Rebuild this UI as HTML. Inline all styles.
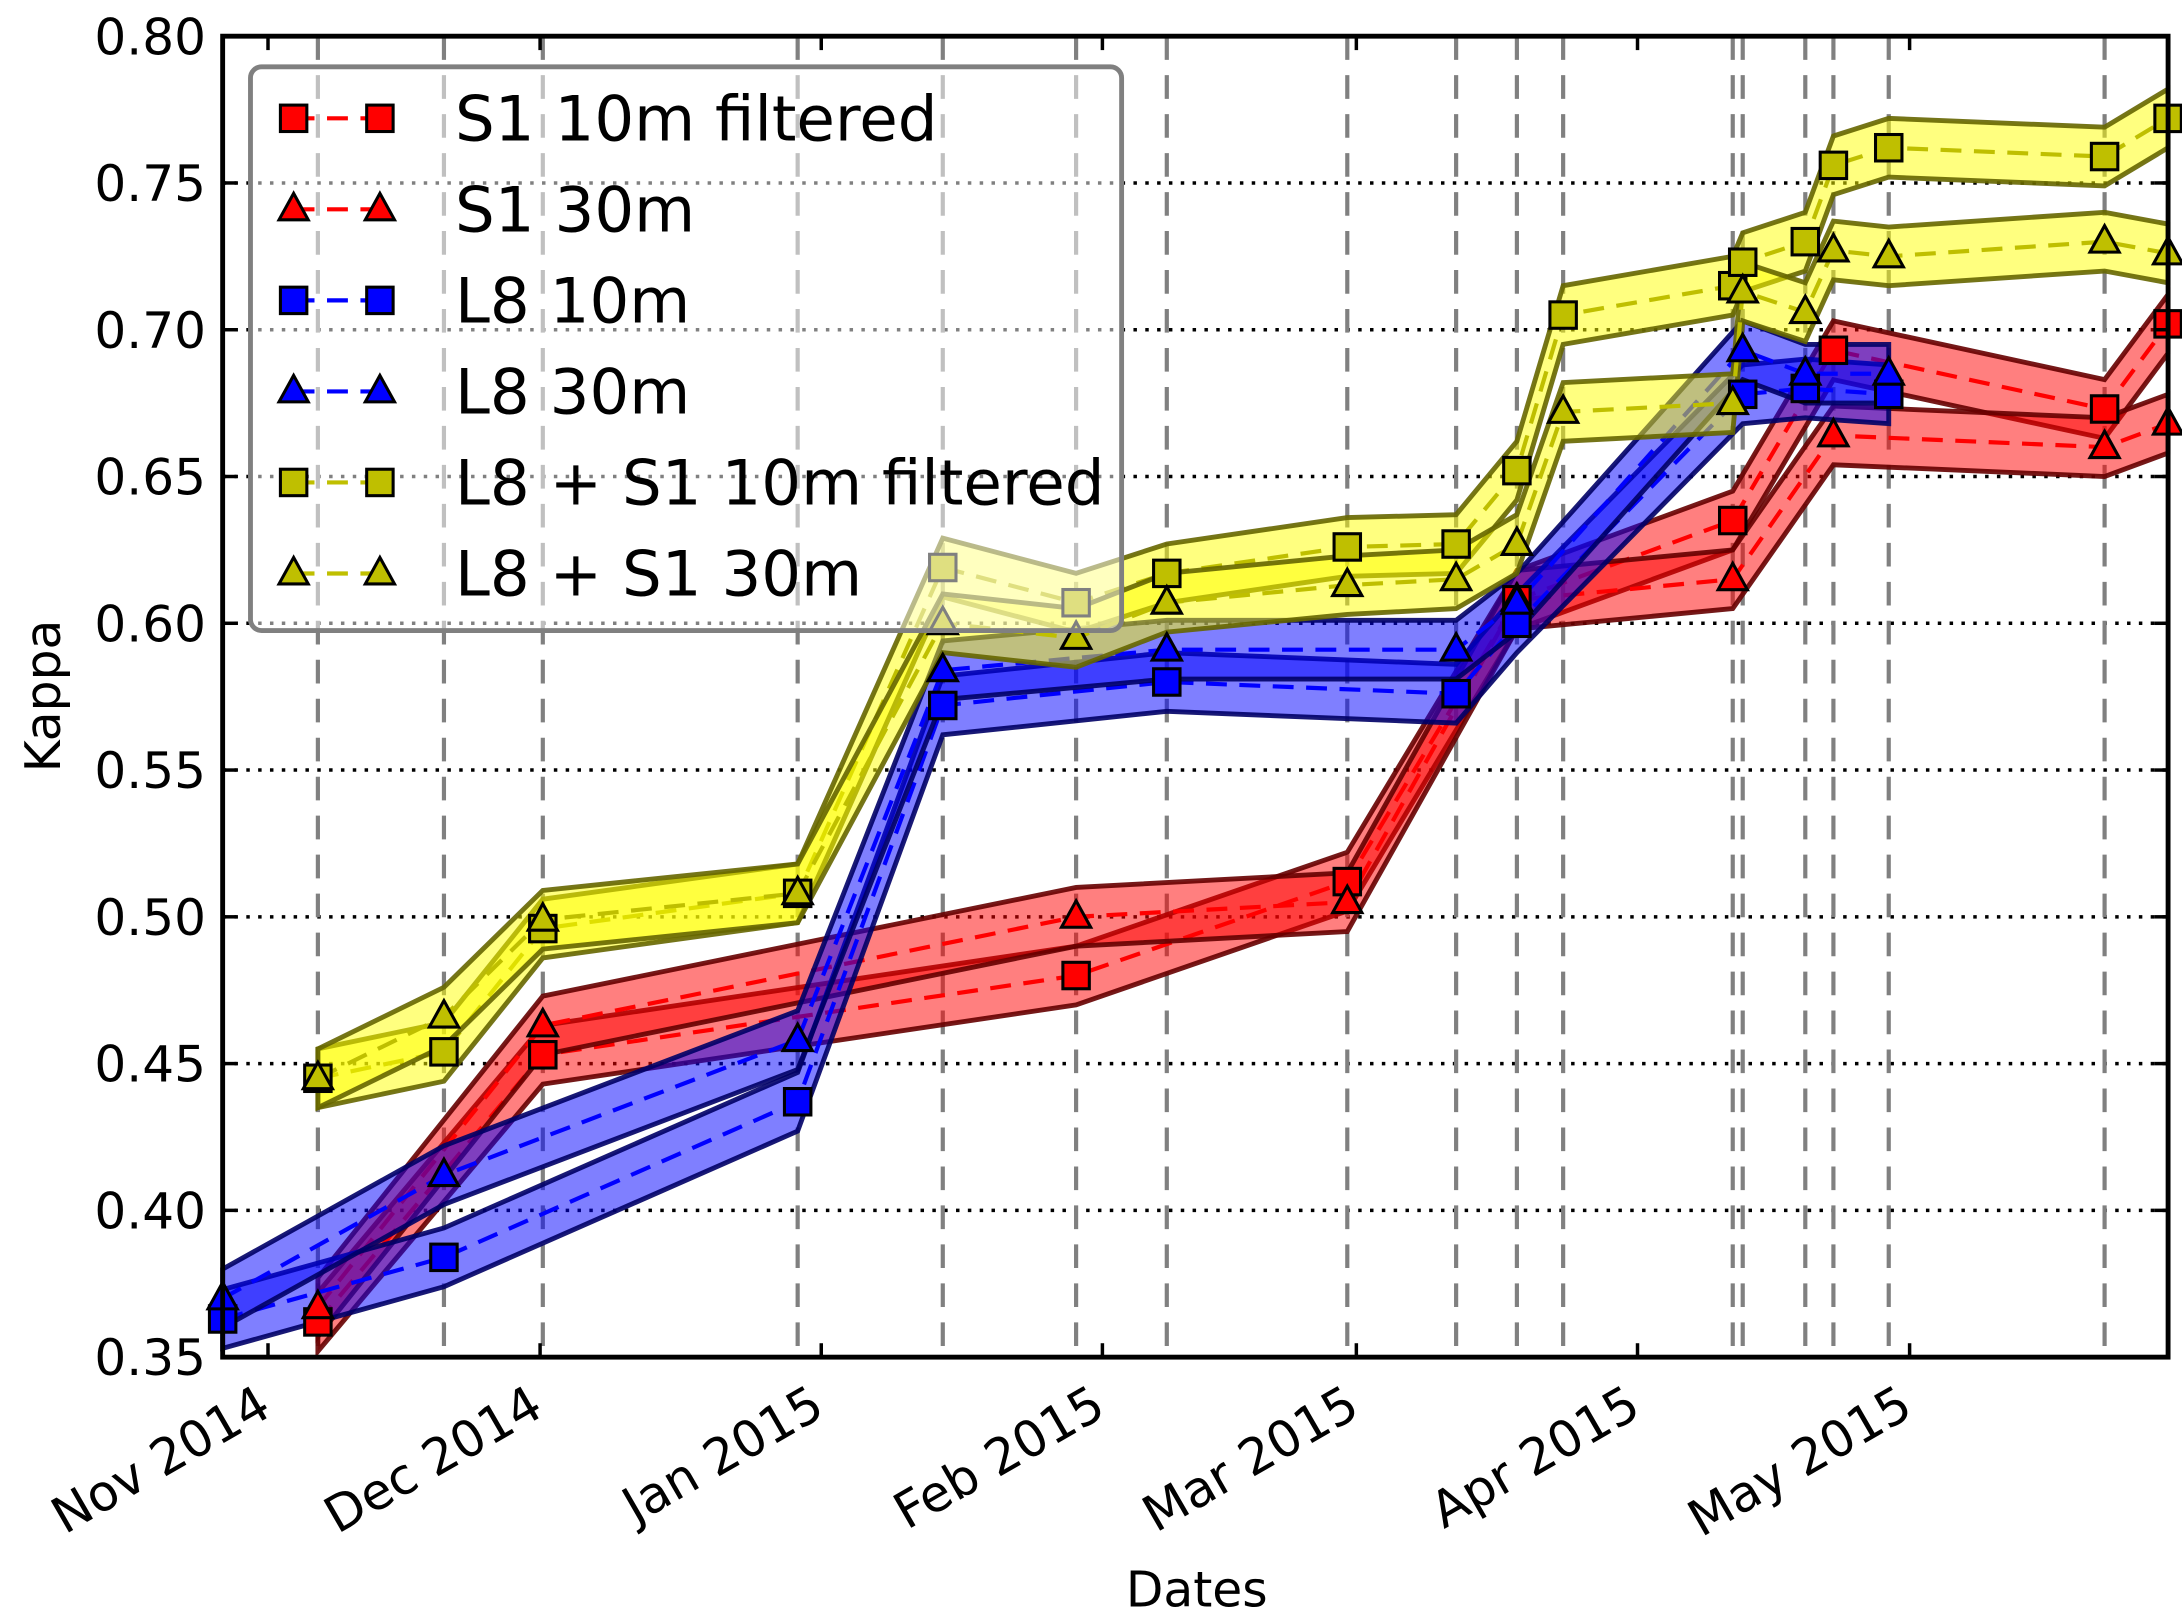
<!DOCTYPE html>
<html><head><meta charset="utf-8"><style>
html,body{margin:0;padding:0;background:#fff;}
svg{display:block;font-family:"DejaVu Sans","Liberation Sans",sans-serif;}
</style></head><body>
<svg id="chart" width="2182" height="1623" viewBox="0 0 1568 1166" preserveAspectRatio="none" xmlns="http://www.w3.org/2000/svg">
<g id="grid"></g>
<g id="series"></g>
<g id="axes"></g>
<g id="legend"></g>
<text x="0" y="0" font-size="35" text-anchor="middle" transform="translate(43,500) rotate(-90)">Kappa</text>
<text x="860" y="1154" font-size="35" text-anchor="middle">Dates</text>
</svg>
<script>
// days since 1 Nov 2014
const acqDays = [-5, 5.5, 19.4, 30.3, 58.4, 74.4, 89.1, 99.1, 119, 131, 137.7, 142.8, 161.5, 162.6, 169.5, 172.6, 178.7, 202.5, 209.5];
const s1Days = [5.5, 30.3, 89.1, 119, 137.7, 161.5, 172.6, 202.5, 209.5];
const l8Days = [-5, 19.4, 58.4, 74.4, 99.1, 131, 137.7, 162.6, 169.5, 178.7];
const comboDays = [5.5, 19.4, 30.3, 58.4, 74.4, 89.1, 99.1, 119, 131, 137.7, 142.8, 161.5, 162.6, 169.5, 172.6, 178.7, 202.5, 209.5];
const s1_10 = [0.362, 0.453, 0.480, 0.512, 0.608, 0.635, 0.693, 0.673, 0.702];
const s1_30 = [0.367, 0.463, 0.500, 0.505, 0.608, 0.615, 0.664, 0.660, 0.668];
const l8_10 = [0.363, 0.384, 0.437, 0.572, 0.580, 0.576, 0.600, 0.678, 0.680, 0.678];
const l8_30 = [0.370, 0.412, 0.458, 0.584, 0.591, 0.591, 0.607, 0.693, 0.685, 0.685];
const combo_10 = [0.445, 0.454, 0.496, 0.508, 0.619, 0.607, 0.617, 0.626, 0.627, 0.652, 0.705, 0.715, 0.723, 0.730, 0.756, 0.762, 0.759, 0.772];
const combo_30 = [0.445, 0.466, 0.499, 0.508, 0.600, 0.595, 0.607, 0.613, 0.615, 0.627, 0.672, 0.675, 0.713, 0.706, 0.727, 0.725, 0.730, 0.726];
const bandErr = [0.010, 0.010, 0.010, 0.010, 0.010, 0.010];
const yTicks = [0.35, 0.40, 0.45, 0.50, 0.55, 0.60, 0.65, 0.70, 0.75, 0.80];
const monthDays = [0, 30, 61, 92, 120, 151, 181];
const monthLabels = ["Nov 2014", "Dec 2014", "Jan 2015", "Feb 2015", "Mar 2015", "Apr 2015", "May 2015"];
const seriesNames = ["S1 10m filtered", "S1 30m", "L8 10m", "L8 30m", "L8 + S1 10m filtered", "L8 + S1 30m"];

const L=160, R=1558, T=26, B=975;
const X0=-5, X1=209.5, Y0=0.35, Y1=0.80;
const sx = d => L + (d - X0) / (X1 - X0) * (R - L);
const sy = v => B - (v - Y0) / (Y1 - Y0) * (B - T);
const NS = "http://www.w3.org/2000/svg";
function mk(tag, attrs, parent){ const e=document.createElementNS(NS,tag); for(const k in attrs) e.setAttribute(k,attrs[k]); parent.appendChild(e); return e; }

const grid=document.getElementById('grid'), ser=document.getElementById('series'), axes=document.getElementById('axes'), leg=document.getElementById('legend');

yTicks.forEach(v=>{ const l=mk('line',{x1:L,x2:R,y1:sy(v),y2:sy(v),stroke:'#000','stroke-width':2.5,'stroke-dasharray':'2.5,6'},grid);

 });
acqDays.forEach(d=>{ const l=mk('line',{x1:sx(d),x2:sx(d),y1:T,y2:B,stroke:'#808080','stroke-width':3,'stroke-dasharray':'17,11'},grid);

 });

const specs = [
 {days:s1Days, vals:s1_10, fill:'#ff0000', edge:'#660000', line:'#ff0000', mfill:'#ff0000', marker:'s', name:'s1-10m-filtered'},
 {days:s1Days, vals:s1_30, fill:'#ff0000', edge:'#660000', line:'#ff0000', mfill:'#ff0000', marker:'t', name:'s1-30m'},
 {days:l8Days, vals:l8_10, fill:'#0000ff', edge:'#000066', line:'#0000ff', mfill:'#0000ff', marker:'s', name:'l8-10m'},
 {days:l8Days, vals:l8_30, fill:'#0000ff', edge:'#000066', line:'#0000ff', mfill:'#0000ff', marker:'t', name:'l8-30m'},
 {days:comboDays, vals:combo_10, fill:'#ffff00', edge:'#666600', line:'#bfbf00', mfill:'#bfbf00', marker:'s', name:'l8-s1-10m-filtered'},
 {days:comboDays, vals:combo_30, fill:'#ffff00', edge:'#666600', line:'#bfbf00', mfill:'#bfbf00', marker:'t', name:'l8-s1-30m'}
];
function marker(type,x,y,fill,parent){
  let e;
  if(type==='s') e=mk('rect',{x:x-9.5,y:y-9.5,width:19,height:19,fill:fill,stroke:'#000','stroke-width':2.2},parent);
  else e=mk('polygon',{points:`${x},${y-11.5} ${x-10.5},${y+7.5} ${x+10.5},${y+7.5}`,fill:fill,stroke:'#000','stroke-width':2.2},parent);
  return e;
}
specs.forEach((s,i)=>{
  const g=mk('g',{},ser);
  
  
  const e=bandErr[i];
  const up=s.days.map((d,j)=>sx(d)+','+sy(s.vals[j]+e));
  const lo=s.days.map((d,j)=>sx(d)+','+sy(s.vals[j]-e)).reverse();
  const band=mk('polygon',{points:up.concat(lo).join(' '),fill:s.fill,'fill-opacity':0.5,stroke:s.edge,'stroke-width':3.5,'stroke-opacity':0.9,'stroke-linejoin':'miter'},g);
  
  
  const ln=mk('polyline',{points:s.days.map((d,j)=>sx(d)+','+sy(s.vals[j])).join(' '),fill:'none',stroke:s.line,'stroke-width':3,'stroke-dasharray':'15,9'},g);
  
  
});
specs.forEach((s)=>{
  s.days.forEach((d,j)=>{ const m=marker(s.marker,sx(d),sy(s.vals[j]),s.mfill,ser);
  
   });
});

// axes frame
const fr=mk('rect',{x:L,y:T,width:R-L,height:B-T,fill:'none',stroke:'#000','stroke-width':3.5},axes);


yTicks.forEach(v=>{
  mk('line',{x1:L,x2:L+10,y1:sy(v),y2:sy(v),stroke:'#000','stroke-width':2.5},axes);
  mk('line',{x1:R-10,x2:R,y1:sy(v),y2:sy(v),stroke:'#000','stroke-width':2.5},axes);
  const t=mk('text',{x:148,y:sy(v)+13,'font-size':36,'text-anchor':'end'},axes);
  t.textContent=v.toFixed(2);
  
  
});
monthDays.forEach((d,i)=>{
  const x=sx(d);
  mk('line',{x1:x,x2:x,y1:B,y2:B-10,stroke:'#000','stroke-width':2.5},axes);
  mk('line',{x1:x,x2:x,y1:T,y2:T+10,stroke:'#000','stroke-width':2.5},axes);
  const t=mk('text',{x:0,y:0,'font-size':36,'text-anchor':'end',transform:`translate(${x+4},${1016}) rotate(-30)`},axes);
  t.textContent=monthLabels[i];
  
  
});

// legend
const box=mk('rect',{x:180,y:48,width:626,height:405,rx:8,fill:'#fff','fill-opacity':0.5,stroke:'#808080','stroke-width':3.5},leg);


specs.forEach((s,i)=>{
  const y=85+i*65.4;
  const g=mk('g',{},leg);
  
  
  mk('line',{x1:211,x2:273,y1:y,y2:y,stroke:s.line,'stroke-width':3,'stroke-dasharray':'15,9'},g);
  marker(s.marker,211,y,s.mfill,g);
  marker(s.marker,273,y,s.mfill,g);
  const t=mk('text',{x:327,y:y+16,'font-size':45},g);
  t.textContent=seriesNames[i];
});
</script>
</body></html>
